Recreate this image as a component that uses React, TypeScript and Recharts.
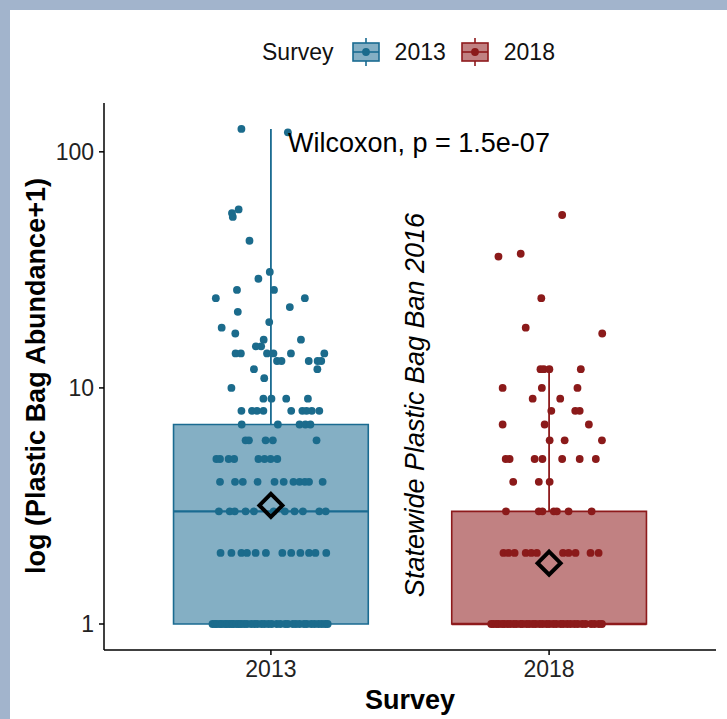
import React from 'react';
import {
  ComposedChart,
  Scatter,
  XAxis,
  YAxis,
  ReferenceArea,
  ReferenceLine
} from 'recharts';

// categories and box statistics (values on the abundance+1 scale)
const surveys = ['2013', '2018'];
const surveyPos = [1, 2];
const boxQ1 = [1, 1];
const boxMedian = [3, 1];
const boxQ3 = [7, 3];
const whiskerHigh = [125, 12];
const meanValues = [3.18, 1.81];
const yTicks = [1, 10, 100];

const points2013: [number, number][] = [
  [0.894, 125], [1.061, 121], [0.884, 57], [0.86, 55], [0.863, 53], [0.923, 42],
  [0.996, 31], [0.955, 29], [1.011, 26], [0.878, 26], [0.802, 24], [1.122, 24],
  [1.068, 22], [0.881, 21], [0.994, 19], [0.823, 18], [0.872, 17], [1.108, 16],
  [0.974, 16], [0.965, 15], [0.946, 15], [0.873, 14], [0.892, 14], [0.986, 14],
  [1.009, 14], [1.022, 13], [1.038, 13], [1.072, 14], [1.136, 13], [1.168, 13],
  [1.181, 13], [1.192, 14], [1.167, 12], [0.939, 12], [0.976, 11], [0.858, 10],
  [0.973, 9], [1.002, 9], [1.055, 9], [1.133, 9],
  [0.894, 8], [0.932, 8], [0.95, 8], [0.973, 8], [1.073, 8], [1.113, 8], [1.128, 8], [1.147, 8], [1.174, 8],
  [0.895, 7], [1.025, 7], [1.103, 7], [1.124, 7], [1.142, 7],
  [0.909, 6], [0.921, 6], [0.981, 6], [1.007, 6], [1.164, 6],
  [0.804, 5], [0.817, 5], [0.848, 5], [0.868, 5], [0.955, 5], [0.977, 5], [0.999, 5], [1.023, 5],
  [0.817, 4], [0.871, 4], [0.899, 4], [0.952, 4], [1.013, 4], [1.046, 4], [1.081, 4], [1.103, 4],
  [1.122, 4], [1.137, 4], [1.186, 4],
  [0.813, 3], [0.852, 3], [0.87, 3], [0.909, 3], [0.939, 3], [1.01, 3], [1.05, 3], [1.085, 3],
  [1.115, 3], [1.174, 3], [1.197, 3],
  [0.819, 2], [0.858, 2], [0.894, 2], [0.914, 2], [0.945, 2], [0.982, 2], [1.041, 2], [1.073, 2],
  [1.106, 2], [1.137, 2], [1.16, 2], [1.199, 2],
  [0.79, 1], [0.799, 1], [0.806, 1], [0.817, 1], [0.824, 1], [0.835, 1], [0.842, 1], [0.851, 1],
  [0.86, 1], [0.866, 1], [0.877, 1], [0.885, 1], [0.893, 1], [0.904, 1], [0.914, 1], [0.929, 1],
  [0.941, 1], [0.951, 1], [0.966, 1], [0.977, 1], [0.991, 1], [1.003, 1], [1.021, 1], [1.034, 1],
  [1.051, 1], [1.061, 1], [1.079, 1], [1.09, 1], [1.103, 1], [1.119, 1], [1.129, 1], [1.145, 1],
  [1.157, 1], [1.171, 1], [1.183, 1], [1.195, 1], [1.204, 1]
];

const points2018: [number, number][] = [
  [2.047, 54], [1.898, 37], [1.818, 36], [1.972, 24], [1.916, 18], [2.191, 17],
  [1.969, 12], [1.981, 12], [2.001, 12], [2.114, 12],
  [1.833, 10], [1.974, 10], [2.102, 10],
  [1.941, 9], [2.04, 9],
  [2.008, 8], [2.094, 8], [2.11, 8],
  [1.833, 7], [1.984, 7], [2.143, 7],
  [2.002, 6], [2.056, 6], [2.19, 6],
  [1.844, 5], [1.858, 5], [1.948, 5], [1.976, 5], [2.047, 5], [2.11, 5], [2.168, 5],
  [1.871, 4], [1.963, 4], [2.002, 4],
  [1.845, 3], [1.963, 3], [1.976, 3], [2.017, 3], [2.028, 3], [2.07, 3], [2.153, 3],
  [1.836, 2], [1.854, 2], [1.876, 2], [1.916, 2], [1.936, 2], [1.956, 2], [2.05, 2], [2.07, 2],
  [2.095, 2], [2.149, 2], [2.178, 2],
  [1.792, 1], [1.8, 1], [1.811, 1], [1.819, 1], [1.831, 1], [1.839, 1], [1.851, 1], [1.86, 1],
  [1.873, 1], [1.883, 1], [1.897, 1], [1.905, 1], [1.919, 1], [1.929, 1], [1.942, 1], [1.952, 1],
  [1.966, 1], [1.977, 1], [1.991, 1], [2.001, 1], [2.015, 1], [2.026, 1], [2.041, 1], [2.051, 1],
  [2.065, 1], [2.077, 1], [2.091, 1], [2.103, 1], [2.119, 1], [2.131, 1], [2.151, 1], [2.163, 1],
  [2.179, 1], [2.19, 1]
];

const BOX_HALF = 0.35;
const COLORS = [
  { point: '#1b6b8c', fill: '#1f6e93', stroke: '#1a6b91' },
  { point: '#8b1a1a', fill: '#8e1a1c', stroke: '#8e1a1c' }
];
const FONT = '"Liberation Sans", Arial, sans-serif';

const toRows = (pts: [number, number][]) => pts.map(([x, y]) => ({ x, y }));
const meanRows = surveyPos.map((x, i) => ({ x, y: meanValues[i] }));

const Dot = (color: string) => (props: any) => (
  <circle cx={props.cx} cy={props.cy} r={3.9} fill={color} />
);

const Diamond = (props: any) => {
  const { cx, cy } = props;
  const s = 11.5;
  return (
    <polygon
      points={`${cx},${cy - s} ${cx + s},${cy} ${cx},${cy + s} ${cx - s},${cy}`}
      fill="none"
      stroke="#000"
      strokeWidth={4}
      strokeLinejoin="miter"
    />
  );
};

const LegendKey = ({ c }: { c: typeof COLORS[0] }) => (
  <svg width={28} height={28} style={{ display: 'block' }}>
    <line x1={14} y1={0} x2={14} y2={28} stroke={c.stroke} strokeWidth={1.6} />
    <rect x={1} y={5} width={26} height={18} fill="#fff" />
    <rect x={1} y={5} width={26} height={18} fill={c.fill} fillOpacity={0.55} stroke={c.stroke} strokeWidth={1.6} />
    <line x1={1} y1={14} x2={27} y2={14} stroke={c.stroke} strokeWidth={1.6} />
    <circle cx={14} cy={14} r={3.9} fill={c.point} />
  </svg>
);

export default function App() {
  return (
    <div style={{ position: 'absolute', left: 0, top: 0, width: 727, height: 719, background: '#a2b4cc', fontFamily: FONT }}>
      <div style={{ position: 'absolute', left: 10, top: 10, right: 0, bottom: 0, background: '#fff' }} />

      {/* legend */}
      <div style={{ position: 'absolute', left: 262, top: 38, height: 28, display: 'flex', alignItems: 'center', fontSize: 23, color: '#111' }}>
        <span style={{ marginRight: 18 }}>Survey</span>
        <LegendKey c={COLORS[0]} />
        <span style={{ marginLeft: 15, marginRight: 15 }}>{surveys[0]}</span>
        <LegendKey c={COLORS[1]} />
        <span style={{ marginLeft: 15 }}>{surveys[1]}</span>
      </div>

      <div style={{ position: 'absolute', left: 0, top: 0 }}>
        <ComposedChart width={727} height={719} margin={{ top: 103, right: 11, left: 0, bottom: 0 }}>
          <XAxis
            type="number"
            dataKey="x"
            domain={[0.4, 2.6]}
            ticks={surveyPos}
            allowDataOverflow
            tickFormatter={(v) => surveys[surveyPos.indexOf(v)] ?? ''}
            height={69}
            tickSize={5}
            tickMargin={6}
            axisLine={{ stroke: '#000', strokeWidth: 1.5 }}
            tickLine={{ stroke: '#000', strokeWidth: 1.5 }}
            tick={{ fontSize: 23, fill: '#222', fontFamily: FONT }}
          />
          <YAxis
            type="number"
            dataKey="y"
            scale="log"
            domain={[0.776, 161]}
            allowDataOverflow
            ticks={yTicks}
            width={104}
            tickSize={5}
            tickMargin={5}
            axisLine={{ stroke: '#000', strokeWidth: 1.5 }}
            tickLine={{ stroke: '#000', strokeWidth: 1.5 }}
            tick={{ fontSize: 23, fill: '#222', fontFamily: FONT }}
          />

          {surveyPos.map((x, i) => (
            <ReferenceArea
              key={`box${i}`}
              x1={x - BOX_HALF}
              x2={x + BOX_HALF}
              y1={boxQ1[i]}
              y2={boxQ3[i]}
              fill={COLORS[i].fill}
              fillOpacity={0.55}
              stroke={COLORS[i].stroke}
              strokeWidth={1.6}
              ifOverflow="visible"
            />
          ))}
          {surveyPos.map((x, i) => (
            <ReferenceLine
              key={`med${i}`}
              segment={[{ x: x - BOX_HALF, y: boxMedian[i] }, { x: x + BOX_HALF, y: boxMedian[i] }]}
              stroke={COLORS[i].stroke}
              strokeWidth={2.4}
              ifOverflow="visible"
            />
          ))}
          {surveyPos.map((x, i) => (
            <ReferenceLine
              key={`wh${i}`}
              segment={[{ x, y: boxQ3[i] }, { x, y: whiskerHigh[i] }]}
              stroke={COLORS[i].stroke}
              strokeWidth={1.8}
              ifOverflow="visible"
            />
          ))}

          <Scatter data={toRows(points2013)} shape={Dot(COLORS[0].point)} isAnimationActive={false} />
          <Scatter data={toRows(points2018)} shape={Dot(COLORS[1].point)} isAnimationActive={false} />
          <Scatter data={meanRows} shape={Diamond} isAnimationActive={false} />
        </ComposedChart>
      </div>

      {/* titles and annotations */}
      <svg width={727} height={719} style={{ position: 'absolute', left: 0, top: 0, pointerEvents: 'none' }}>
        <text
          transform="translate(36,376) rotate(-90)"
          textAnchor="middle"
          dominantBaseline="central"
          fontFamily={FONT}
          fontWeight="bold"
          fontSize={27}
          fill="#000"
        >
          log (Plastic Bag Abundance+1)
        </text>
        <text x={410} y={700} textAnchor="middle" dominantBaseline="central" fontFamily={FONT} fontWeight="bold" fontSize={27} fill="#000">
          Survey
        </text>
        <text x={288} y={152} fontFamily={FONT} fontSize={27} fill="#000">
          Wilcoxon, p = 1.5e-07
        </text>
        <text
          transform="translate(424,405) rotate(-90)"
          textAnchor="middle"
          fontFamily={FONT}
          fontStyle="italic"
          fontSize={27}
          fill="#000"
        >
          Statewide Plastic Bag Ban 2016
        </text>
      </svg>
    </div>
  );
}
